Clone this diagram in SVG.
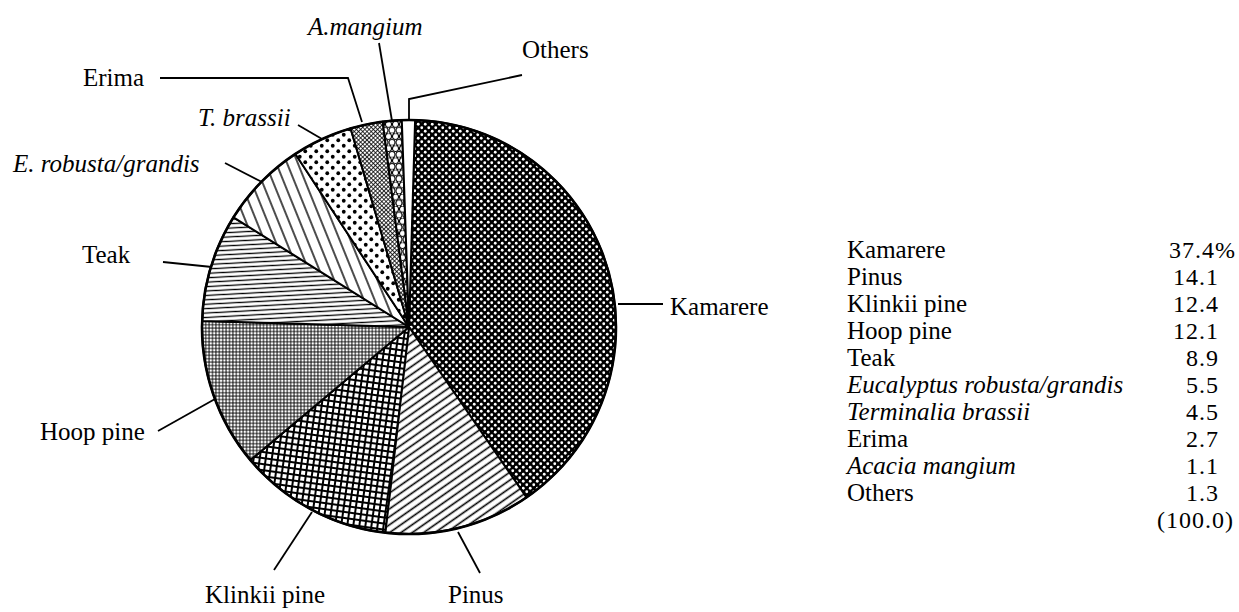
<svg xmlns="http://www.w3.org/2000/svg" width="1239" height="612" viewBox="0 0 1239 612">
<style>
.t{font-family:"Liberation Serif","Times New Roman",serif;font-size:25px;fill:#000}
.i{font-style:italic}
.v{font-family:"Liberation Serif","Times New Roman",serif;font-size:24px;fill:#000;letter-spacing:1px;text-anchor:end}
.s{stroke:#000;stroke-width:2;stroke-linejoin:round}
.ld{fill:none;stroke:#000;stroke-width:1.8}
</style>
<defs>
<pattern id="pKam" width="7" height="7" patternUnits="userSpaceOnUse">
<rect width="7" height="7" fill="#000"/>
<circle cx="1.75" cy="1.75" r="1.4" fill="#fff"/>
<circle cx="5.25" cy="5.25" r="1.4" fill="#fff"/>
</pattern>
<pattern id="pPin" width="10" height="6.5" patternUnits="userSpaceOnUse" patternTransform="rotate(-35)">
<rect width="10" height="6.5" fill="#fff"/>
<line x1="0" y1="3.25" x2="10" y2="3.25" stroke="#000" stroke-width="1.6"/>
</pattern>
<pattern id="pKli" width="6" height="6" patternUnits="userSpaceOnUse" patternTransform="rotate(8)">
<rect width="6" height="6" fill="#fff"/>
<path d="M0,3H6M3,0V6" stroke="#000" stroke-width="2"/>
</pattern>
<pattern id="pHoop" width="3.4" height="3.4" patternUnits="userSpaceOnUse">
<rect width="3.4" height="3.4" fill="#fff"/>
<path d="M0,1.7H3.4M1.7,0V3.4" stroke="#000" stroke-width="0.9"/>
</pattern>
<pattern id="pTeak" width="10" height="4.4" patternUnits="userSpaceOnUse" patternTransform="rotate(-3)">
<rect width="10" height="4.4" fill="#fff"/>
<line x1="0" y1="2.2" x2="10" y2="2.2" stroke="#000" stroke-width="1.3"/>
</pattern>
<pattern id="pErob" width="10" height="10" patternUnits="userSpaceOnUse" patternTransform="rotate(68)">
<rect width="10" height="10" fill="#fff"/>
<line x1="0" y1="5" x2="10" y2="5" stroke="#000" stroke-width="1.4"/>
</pattern>
<pattern id="pTbr" width="11" height="11" patternUnits="userSpaceOnUse">
<rect width="11" height="11" fill="#fff"/>
<circle cx="2.75" cy="2.75" r="1.9" fill="#000"/>
<circle cx="8.25" cy="8.25" r="1.9" fill="#000"/>
</pattern>
<pattern id="pErima" width="3" height="3" patternUnits="userSpaceOnUse" patternTransform="rotate(45)">
<rect width="3" height="3" fill="#fff"/>
<path d="M0,1.5H3M1.5,0V3" stroke="#000" stroke-width="0.8"/>
</pattern>
<pattern id="pAman" width="7" height="12.12" patternUnits="userSpaceOnUse">
<rect width="7" height="12.12" fill="#fff"/>
<g fill="#fff" stroke="#000" stroke-width="1.1">
<circle cx="3.5" cy="3.03" r="3"/>
<circle cx="0" cy="9.09" r="3"/>
<circle cx="7" cy="9.09" r="3"/>
</g>
</pattern>
</defs>

<g id="pie">
<g id="kamarere"><path class="s" fill="url(#pKam)" d="M409,327 L415.1,120.1 A207,207 0 0 1 526.5,497.4 Z"/></g>
<g id="pinus"><path class="s" fill="url(#pPin)" d="M409,327 L526.5,497.4 A207,207 0 0 1 385.2,532.6 Z"/></g>
<g id="klinkii"><path class="s" fill="url(#pKli)" d="M409,327 L385.2,532.6 A207,207 0 0 1 250.4,460.1 Z"/></g>
<g id="hoop"><path class="s" fill="url(#pHoop)" d="M409,327 L250.4,460.1 A207,207 0 0 1 202.1,320.9 Z"/></g>
<g id="teak"><path class="s" fill="url(#pTeak)" d="M409,327 L202.1,320.9 A207,207 0 0 1 233.5,217.3 Z"/></g>
<g id="erobusta"><path class="s" fill="url(#pErob)" d="M409,327 L233.5,217.3 A207,207 0 0 1 295.4,154.0 Z"/></g>
<g id="tbrassii"><path class="s" fill="url(#pTbr)" d="M409,327 L295.4,154.0 A207,207 0 0 1 350.6,128.4 Z"/></g>
<g id="erima"><path class="s" fill="url(#pErima)" d="M409,327 L350.6,128.4 A207,207 0 0 1 382.7,121.7 Z"/></g>
<g id="amangium"><path class="s" fill="url(#pAman)" d="M409,327 L382.7,121.7 A207,207 0 0 1 401.8,120.1 Z"/></g>
<g id="others"><path class="s" fill="#fff" d="M409,327 L401.8,120.1 A207,207 0 0 1 415.1,120.1 Z"/></g>
<circle cx="409" cy="327" r="207" fill="none" stroke="#000" stroke-width="2.6"/>
</g>

<g id="connectors">
<polyline class="ld" points="379,43 392,121"/>
<polyline class="ld" points="522,75 409,99 409,120"/>
<polyline class="ld" points="160,78 348,78 362,122"/>
<polyline class="ld" points="298,125 322,139"/>
<polyline class="ld" points="225,163 262,182"/>
<polyline class="ld" points="163,262 212,267"/>
<polyline class="ld" points="158,431 215,399"/>
<polyline class="ld" points="618,304 663,304"/>
<polyline class="ld" points="274,570 312,512"/>
<polyline class="ld" points="480,573 458,532"/>
</g>

<g id="labels">
<text class="t i" x="308" y="35">A.mangium</text>
<text class="t" x="522" y="58">Others</text>
<text class="t" x="83" y="86">Erima</text>
<text class="t i" x="198" y="126">T. brassii</text>
<text class="t i" x="13" y="172">E. robusta/grandis</text>
<text class="t" x="82" y="263">Teak</text>
<text class="t" x="40" y="440">Hoop pine</text>
<text class="t" x="670" y="315">Kamarere</text>
<text class="t" x="205" y="603">Klinkii pine</text>
<text class="t" x="448" y="603">Pinus</text>
</g>

<g id="legend">
<text class="t" x="847" y="258">Kamarere</text>
<text class="t" x="847" y="285">Pinus</text>
<text class="t" x="847" y="312">Klinkii pine</text>
<text class="t" x="847" y="339">Hoop pine</text>
<text class="t" x="847" y="366">Teak</text>
<text class="t i" x="847" y="393">Eucalyptus robusta/grandis</text>
<text class="t i" x="847" y="420">Terminalia brassii</text>
<text class="t" x="847" y="447">Erima</text>
<text class="t i" x="847" y="474">Acacia mangium</text>
<text class="t" x="847" y="501">Others</text>
<text class="v" x="1236" y="258">37.4%</text>
<text class="v" x="1219" y="285">14.1</text>
<text class="v" x="1219" y="312">12.4</text>
<text class="v" x="1219" y="339">12.1</text>
<text class="v" x="1219" y="366">8.9</text>
<text class="v" x="1219" y="393">5.5</text>
<text class="v" x="1219" y="420">4.5</text>
<text class="v" x="1219" y="447">2.7</text>
<text class="v" x="1219" y="474">1.1</text>
<text class="v" x="1219" y="501">1.3</text>
<text class="v" x="1234" y="528">(100.0)</text>
</g>
</svg>
